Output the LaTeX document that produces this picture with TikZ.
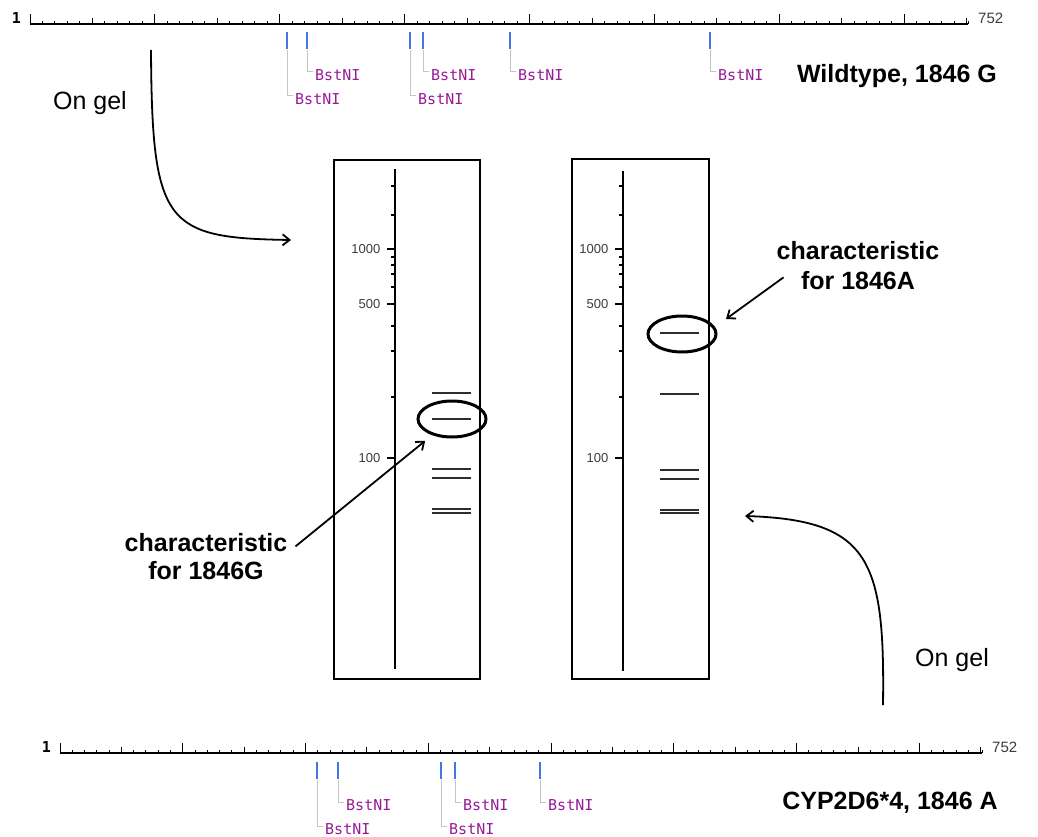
\documentclass[tikz,border=0pt]{standalone}
\usepackage{fontspec}
\setmainfont{Liberation Sans}
\newfontfamily\sitefont{DejaVu Sans Mono}
\usetikzlibrary{arrows.meta,shapes.geometric}
\definecolor{siteblue}{RGB}{70,115,230}
\definecolor{leadgrey}{RGB}{195,195,195}
\definecolor{enzyme}{RGB}{150,25,150}
\definecolor{bandgrey}{RGB}{45,45,45}
\definecolor{numgrey}{RGB}{60,60,60}
\tikzset{
  rulerline/.style={black,line width=1.5pt},
  rulertick/.style={black,line width=1pt},
  rulernum/.style={color=numgrey,font=\fontsize{15}{15}\selectfont,inner sep=0pt},
  sitemark/.style={siteblue,line width=1.2pt},
  sitelead/.style={leadgrey,line width=1pt,shorten >=2pt},
  sitelabel/.style={color=enzyme,font=\sitefont\fontsize{15}{15}\selectfont,inner sep=0pt,anchor=west},
  gelbox/.style={draw,line width=1.5pt,inner sep=0pt},
  gelaxis/.style={line width=2.8pt},
  geltick/.style={line width=1.3pt},
  gelnum/.style={color=numgrey,font=\fontsize{13}{13}\selectfont,anchor=east,inner sep=0pt},
  gelband/.style={bandgrey,line width=1.3pt},
  marker/.style={ellipse,draw,line width=3pt,minimum width=68pt,minimum height=36pt,inner sep=0pt},
  pointer/.style={line width=1.8pt,-{Straight Barb[length=7pt,width=11pt]}},
  caption/.style={font=\fontsize{25}{30}\selectfont\bfseries,inner sep=0pt},
  note/.style={font=\fontsize{25}{30}\selectfont,inner sep=0pt},
}
\begin{document}
\begin{tikzpicture}[x=1pt,y=-1pt]
  \useasboundingbox (0,0) rectangle (1038,837);
  % the two maps, 1..752
  \foreach \rx/\rl/\ry/\rn in {30/938/24/top,60/922/753/bot}{
    \draw[rulerline] (\rx,\ry) -- ++(\rl,0) coordinate (\rn-end);
    \foreach \k in {0,...,75}{
      \pgfmathsetmacro\tl{mod(\k,10)==0 ? 10 : (mod(\k,5)==0 ? 6 : 3)}
      \pgfmathsetmacro\tx{\rx+\rl/75.1*\k}
      \draw[rulertick] (\tx,\ry) -- ++(0,-\tl);
    }
    \draw[rulertick] (\rn-end) -- ++(0,-3);
    \node[rulernum,anchor=base east,black,font=\sitefont\fontsize{15}{15}\selectfont\bfseries] (\rn-one) at (\rx-9,\ry-0.5) {1};
    \node[rulernum,anchor=base west] (\rn-last) at ([xshift=10pt,yshift=0.5pt]\rn-end) {752};
  }
  \foreach \sx/\sy in {287/96,307/72,410/96,423/72,510/72,710/72}{
    \draw[sitemark] (\sx,32) -- (\sx,49);
    \node[sitelabel] (top\sx) at (\sx+8,\sy+3) {BstNI};
    \draw[sitelead] (\sx,50) |- ([yshift=3pt]top\sx.west);
  }
  \foreach \sx/\sy in {317/826,338/802,441/826,455/802,540/802}{
    \draw[sitemark] (\sx,762) -- (\sx,779);
    \node[sitelabel] (bot\sx) at (\sx+8,\sy+3) {BstNI};
    \draw[sitelead] (\sx,780) |- ([yshift=3pt]bot\sx.west);
  }
  \node[caption,anchor=base] (wild) at (897,83) {Wildtype, 1846 G};
  \node[caption,anchor=base] (mut) at (890,809) {CYP2D6*4, 1846 A};
  % gels
  \node[gelbox,minimum width=146pt,minimum height=519pt] (gelA) at (407,419.5) {};
  \node[gelbox,minimum width=137pt,minimum height=520pt] (gelB) at (640.5,419) {};
  \foreach \ax/\at/\an/\bands in {395/169/A/{419,469,478,509,513},623/171/B/{333,394,470,479,510,513}}{
    \draw[gelaxis] (\ax,\at) -- (\ax,\at+500);
    \foreach \ty in {186,215,257,265,274,287,326,351,397}
      \draw[geltick] (\ax-4,\ty) -- (\ax,\ty);
    \foreach \ty/\tv in {249/1000,304/500,458/100}{
      \draw[geltick] (\ax-8,\ty) -- (\ax,\ty);
      \node[gelnum] (\an\tv) at (\ax-14.5,\ty) {\tv};
    }
    \foreach \by in \bands
      \draw[gelband] (\ax+37,\by) -- (\ax+76,\by);
  }
  \draw[gelband,line width=2.6pt] (432,393) -- (471,393);
  \node[marker] (markG) at (452,419) {};
  \node[marker] (markA) at (682,334) {};
  % labels and arrows
  \node[note,anchor=base] (gelnoteT) at (90,110) {On gel};
  \node[note,anchor=base] (gelnoteB) at (952,666) {On gel};
  \node[caption,align=center,anchor=north] (charG) at (206,533) {characteristic\\[-2pt]for 1846G};
  \node[caption,align=center,anchor=north] (charA) at (858,241) {characteristic\\for 1846A};
  \coordinate (digestT) at (151,50);
  \coordinate (gelinT) at (291,240);
  \coordinate (digestB) at (883,705);
  \coordinate (gelinB) at (745,516);
  \coordinate (charAtip) at (726,319);
  \draw[pointer] (digestT) .. controls (152,225) and (165,238) .. (gelinT);
  \draw[pointer] (digestB) .. controls (885,560) and (870,520) .. (gelinB);
  \draw[pointer,shorten >=9pt] ([shift={(8pt,10pt)}]charG.east) -- (markG);
  \draw[pointer] ([shift={(7pt,-12pt)}]charA.west) -- (charAtip);
\end{tikzpicture}
\end{document}
